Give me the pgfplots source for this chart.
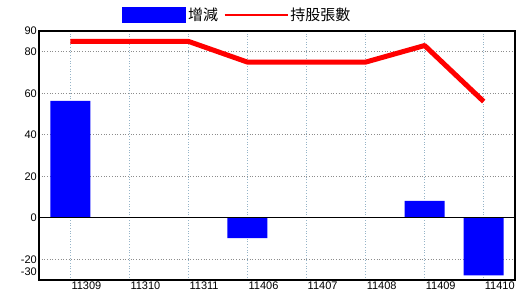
\documentclass[border=0pt]{standalone}
\usepackage{pgfplots}
\pgfplotsset{compat=1.18}
\usepackage{fontspec}
\setmainfont{Liberation Sans}
\newfontfamily\cjk{Noto Sans CJK TC}
\definecolor{vgrid}{RGB}{150,180,200}
\definecolor{hgrid}{RGB}{140,140,140}
\begin{document}
\begin{tikzpicture}
\path[use as bounding box] (-39pt,-20pt) rectangle (481pt,280pt);
\begin{axis}[
  at={(0pt,0pt)}, anchor=south west,
  scale only axis, width=476pt, height=249pt,
  xmin=-0.53, xmax=7.53, ymin=-30, ymax=90,
  xtick={0,...,7},
  xticklabels={11309,11310,11311,11406,11407,11408,11409,11410},
  ytick={-20,0,20,40,60,80,90},
  extra y ticks={-30},
  extra y tick style={yticklabel style={yshift=8pt}, grid=none},
  major tick length=0pt,
  xmajorgrids, ymajorgrids,
  x grid style={vgrid, line width=0.7pt, dash pattern=on 0.7pt off 2pt},
  y grid style={hgrid, line width=0.7pt, dash pattern=on 0.7pt off 2pt},
  axis line style={black, line width=1.2pt},
  tick label style={font=\fontsize{11}{12}\selectfont},
  /pgf/number format/assume math mode=true,
  xticklabel style={anchor=north west, xshift=0pt, yshift=-1pt, inner sep=1pt},
  yticklabel style={anchor=east, inner sep=2pt},
  legend style={at={(axis description cs:0.174,1.064)}, anchor=west, draw=none, fill=none,
    legend columns=-1, font=\cjk\fontsize{15}{15}\selectfont, inner sep=0pt,
    /tikz/every odd column/.append style={column sep=0pt},
    /tikz/every even column/.append style={column sep=4pt},
    nodes={inner sep=2pt}},
  clip=false,
]
\addplot[ybar, bar width=40pt, fill=blue, draw=none,
  legend image code/.code={\fill[blue] (0pt,-8pt) rectangle (64pt,8pt);}]
  coordinates {(0,56.3) (3,-9.8) (6,8.1) (7,-27.8)};
\addlegendentry{增減}
\addplot[red, line width=5pt, line join=round,
  legend image code/.code={\draw[draw=red, line width=1.3pt] (0pt,0pt) -- (63pt,0pt);}]
  coordinates {(0,85) (1,85) (2,85) (3,75) (4,75) (5,75) (6,83) (7,56)};
\addlegendentry{持股張數}
\draw[black, line width=1pt] (axis cs:-0.53,0) -- (axis cs:7.53,0);
\end{axis}
\end{tikzpicture}
\end{document}
